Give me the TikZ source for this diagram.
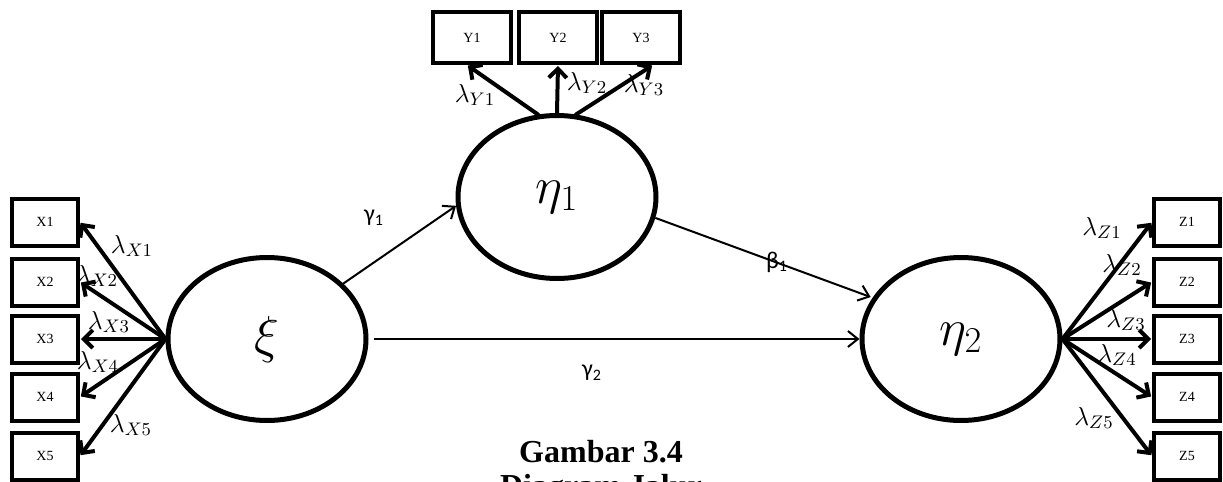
\documentclass[tikz,border=0pt]{standalone}
\usepackage{fix-cm}
\usepackage{fontspec}
\setmainfont{Liberation Serif}
\newfontfamily\calib{Carlito}
\usepackage{tikz}
\usetikzlibrary{
  arrows.meta,
  positioning,
  shapes.geometric
}

\begin{document}
\begin{tikzpicture}[x=0.5pt, y=-0.5pt,
  latent/.style={draw, ellipse, line width=2.5pt, minimum width=99pt, minimum height=81.5pt, inner sep=0pt, font=\fontsize{26}{26}\selectfont},
  indic/.style={draw, rectangle, line width=2pt, minimum width=33pt, minimum height=23.5pt, inner sep=0pt, font=\fontsize{7}{7}\selectfont},
  load/.style={line width=2pt, line cap=round, -{Straight Barb[length=4.5pt,width=9pt]}, shorten >=0.5pt},
  pathar/.style={line width=1pt, -{Straight Barb[length=5pt,width=8pt]}},
  lam/.style={inner sep=0pt, font=\fontsize{13}{13}\selectfont},
  coef/.style={inner sep=0pt, font=\calib\fontsize{12}{12}\selectfont}]
\useasboundingbox (0,0) rectangle (1223,482);

% latent variables
\node[latent] (xi)   at (267,339) {$\xi$};
\node[latent] (eta1) at (557,197) {$\eta_1$};
\node[latent] (eta2) at (961,339) {$\eta_2$};

% indicator boxes
\foreach \i/\y in {1/222,2/282,3/339,4/397,5/456}{
  \node[indic] (x\i) at (45,\y) {X\i};
  \node[indic] (z\i) at (1187,\y) {Z\i};
}
\foreach \i/\x in {1/472,2/558,3/641}{
  \node[indic, minimum width=39pt, minimum height=25.5pt] (y\i) at (\x,37.5) {Y\i};
}

% loadings
\foreach \i in {1,...,5}{
  \draw[load] (xi.west) -- (x\i.east);
  \draw[load] (eta2.east) -- (z\i.west);
}
\draw[load] (eta1.103) -- ([xshift=-2.5pt]y1.south);
\draw[load] (eta1.north) -- (y2.south);
\draw[load] (eta1.77) -- ([xshift=6pt]y3.south);

% loading labels
\foreach \i/\x/\y in {1/132/246,2/97/276,3/109/322,4/98/362,5/131/425}{
  \node[lam] (lx\i) at (\x,\y) {$\lambda_{X\i}$};
}
\foreach \i/\x/\y in {1/475/95,2/587/83,3/644/85}{
  \node[lam] (ly\i) at (\x,\y) {$\lambda_{Y\i}$};
}
\foreach \i/\x/\y in {1/1102/228,2/1122/265,3/1126/320,4/1117/355,5/1094/418}{
  \node[lam] (lz\i) at (\x,\y) {$\lambda_{Z\i}$};
}

% structural paths
\draw[pathar] (xi.36) -- (eta1.185);
\draw[pathar, shorten <=2.5pt] (xi.east) -- (eta2.west);
\draw[pathar, shorten >=1pt] (eta1.-12) -- (eta2.155);
\node[coef] (g1) at (374,218) {γ\textsubscript{1}};
\node[coef] (g2) at (592,373) {γ\textsubscript{2}};
\node[coef] (b1) at (777,262) {β\textsubscript{1}};

% caption
\node[font=\bfseries\fontsize{16}{16}\selectfont] (cap1) at (601,452) {Gambar 3.4};
\node[font=\bfseries\fontsize{16}{16}\selectfont] (cap2) at (601,489) {Diagram Jalur};
\end{tikzpicture}
\end{document}
